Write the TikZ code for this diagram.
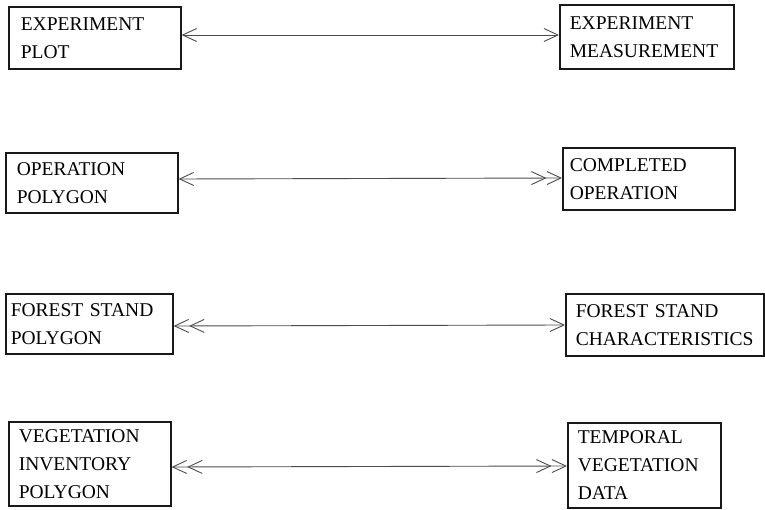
\documentclass[tikz,border=0pt]{standalone}
\usepackage{fontspec}
\setmainfont{Liberation Serif}
\usetikzlibrary{arrows.meta}
\begin{document}
\begin{tikzpicture}[x=1pt,y=-1pt,
  entity/.style={draw=black!90, line width=1.6pt, rectangle, anchor=north west,
    align=left, inner ysep=0pt, font=\fontsize{19.5}{28}\selectfont},
  link/.style={draw=black!70, line width=0.9pt},
  tip/.tip={Straight Barb[length=14pt,width=13pt,line width=0.9pt]},
]
\useasboundingbox (0,0) rectangle (765,510);

% entity boxes: left column
\node[entity, inner xsep=12pt, text width=148pt, minimum height=62pt] (l1) at (8,6)   {EXPERIMENT\\PLOT};
\node[entity, inner xsep=11pt, text width=150pt, minimum height=60pt] (l2) at (5,152) {OPERATION\\POLYGON};
\node[entity, inner xsep=5pt,  text width=157pt, minimum height=60pt] (l3) at (5,293) {FOREST STAND\\POLYGON};
\node[entity, inner xsep=10pt, text width=142pt, minimum height=84pt] (l4) at (8,421) {VEGETATION\\INVENTORY\\POLYGON};

% entity boxes: right column
\node[entity, inner xsep=10pt, text width=154pt, minimum height=64pt] (r1) at (559,4)   {EXPERIMENT\\MEASUREMENT};
\node[entity, inner xsep=7pt,  text width=158pt, minimum height=62pt] (r2) at (562,147) {COMPLETED\\OPERATION};
\node[entity, inner xsep=10pt, text width=178pt, minimum height=62pt] (r3) at (565,293) {FOREST STAND\\CHARACTERISTICS};
\node[entity, inner xsep=10pt, text width=133pt, minimum height=85pt] (r4) at (567,422) {TEMPORAL\\VEGETATION\\DATA};

% relationships
\draw[link, {tip}-{tip}]           (l1.east |- 0,35)  -- (r1.west |- 0,35);
\draw[link, {tip}-{tip[]tip}]      (l2.east |- 0,179) -- (r2.west |- 0,178);
\draw[link, {tip[]tip}-{tip}]      (l3.east |- 0,326) -- (r3.west |- 0,325);
\draw[link, {tip[]tip}-{tip[]tip}] (l4.east |- 0,467) -- (r4.west |- 0,466);
\end{tikzpicture}
\end{document}
